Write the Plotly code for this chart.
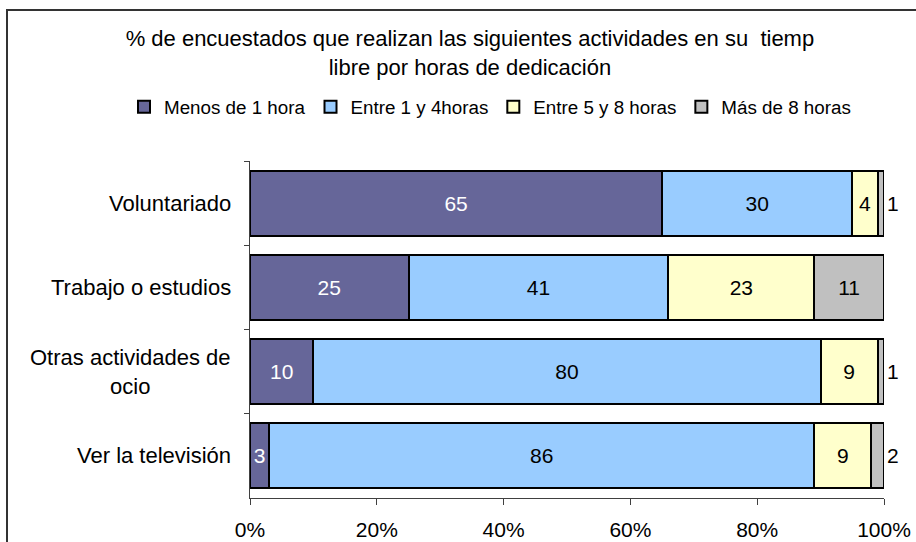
import plotly.graph_objects as go

# data
categories = ["Voluntariado", "Trabajo o estudios", "Otras actividades de<br>ocio", "Ver la televisión"]
menos_1 = [65, 25, 10, 3]
entre_1_4 = [30, 41, 80, 86]
entre_5_8 = [4, 23, 9, 9]
mas_8 = [1, 11, 1, 2]
series_names = ["Menos de 1 hora", "Entre 1 y 4horas", "Entre 5 y 8 horas", "Más de 8 horas"]
x_ticks = [0, 20, 40, 60, 80, 100]
x_ticklabels = ["0%", "20%", "40%", "60%", "80%", "100%"]

FONT = "Liberation Sans, Arial, sans-serif"
colors = ["#666699", "#99CCFF", "#FFFFCC", "#C0C0C0"]
text_colors = ["white", "black", "black", "black"]

fig = go.Figure()
for name, vals, col, tcol in zip(series_names, [menos_1, entre_1_4, entre_5_8, mas_8], colors, text_colors):
    positions = ["inside" if (v >= 3 or name != series_names[-1]) else "outside" for v in vals]
    fig.add_trace(go.Bar(
        y=categories, x=vals, name=name, orientation="h",
        marker=dict(color=col, line=dict(color="black", width=2)),
        text=[str(v) for v in vals], textposition=positions,
        insidetextanchor="middle", constraintext="none", cliponaxis=False,
        insidetextfont=dict(family=FONT, size=21, color=tcol),
        outsidetextfont=dict(family=FONT, size=21, color="black"),
        hoverinfo="x+name",
    ))

# category labels as annotations so the two-line label stays centred
for cat in categories:
    fig.add_annotation(x=-0.027, xref="paper", xanchor="right", y=cat, yref="y",
                       text=cat, showarrow=False, align="center",
                       font=dict(family=FONT, size=22, color="black"))

# outer chart border
fig.add_shape(type="rect", xref="paper", yref="paper",
              x0=(7 - 250) / 634, x1=(920 - 250) / 634,
              y0=(498 - 550) / 337, y1=(498 - 10) / 337,
              line=dict(color="#333333", width=2), layer="below")

fig.update_layout(
    width=916, height=542,
    margin=dict(l=250, r=32, t=161, b=44),
    plot_bgcolor="white", paper_bgcolor="white",
    barmode="stack", bargap=0.23,
    font=dict(family=FONT, size=21, color="black"),
    title=dict(text="% de encuestados que realizan las siguientes actividades en su  tiemp<br>libre por horas de dedicación",
               x=0.513, xref="container", xanchor="center",
               y=1 - 46 / 542, yref="container", yanchor="top",
               font=dict(family=FONT, size=22, color="black")),
    legend=dict(orientation="h", x=(124 - 250) / 634, xanchor="left",
                y=(498 - 107) / 337, yanchor="middle",
                font=dict(family=FONT, size=18.8, color="black"),
                traceorder="normal", bgcolor="rgba(0,0,0,0)"),
    showlegend=True,
)
fig.update_xaxes(range=[0, 100], tickvals=x_ticks, ticktext=x_ticklabels, automargin=False,
                 showgrid=False, zeroline=False, showline=True, linecolor="#404040", linewidth=1,
                 ticks="outside", ticklen=6, tickcolor="#404040", ticklabelstandoff=7,
                 tickfont=dict(family=FONT, size=21, color="black"))
fig.update_yaxes(autorange="reversed", showticklabels=False, tickson="boundaries", automargin=False,
                 showgrid=False, zeroline=False, showline=True, linecolor="#404040", linewidth=1,
                 ticks="outside", ticklen=5, tickcolor="#404040")

fig.write_html("out.html", config={"displayModeBar": False},
               post_script="document.body.style.margin='0';")
